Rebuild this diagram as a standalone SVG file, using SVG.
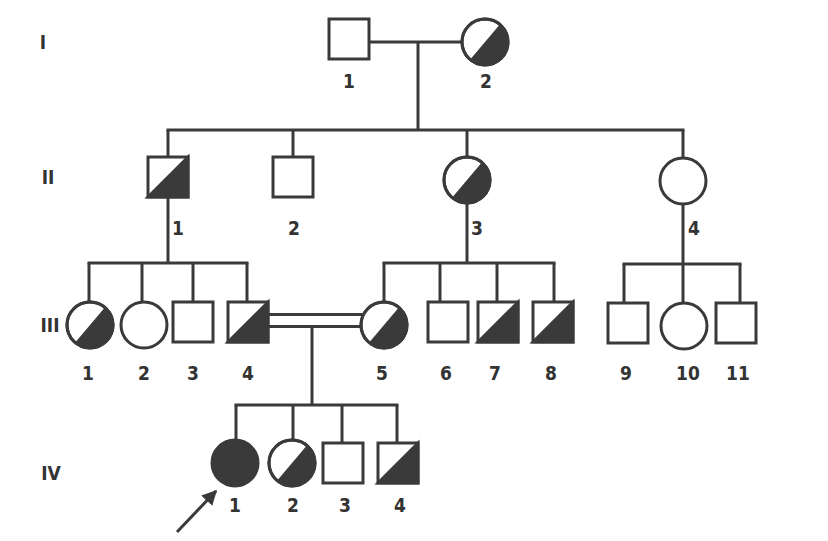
<svg xmlns="http://www.w3.org/2000/svg" width="828" height="541" viewBox="0 0 828 541">
<style>
.ln{stroke:#3a3a3a;stroke-width:3;fill:none}
.sh{stroke:#3a3a3a;stroke-width:3;fill:#fff}
.fl{fill:#3a3a3a;stroke:none}
.ff{fill:#3a3a3a;stroke:#3a3a3a;stroke-width:3}
text{font-family:"DejaVu Sans Condensed","Liberation Sans",sans-serif;font-weight:bold;font-size:19px;fill:#333;text-anchor:middle}
</style>
<defs>
<marker id="ah" viewBox="0 0 10 10" refX="9" refY="5" markerWidth="5" markerHeight="5" orient="auto">
<path d="M0,0 L10,5 L0,10 z" fill="#3a3a3a"/>
</marker>
</defs>
<rect width="828" height="541" fill="#fff"/>
<g id="connectors">
<line class="ln" x1="369" y1="42" x2="462" y2="42"/>
<line class="ln" x1="418" y1="42" x2="418" y2="130"/>
<line class="ln" x1="166.5" y1="130" x2="684.5" y2="130"/>
<line class="ln" x1="168" y1="130" x2="168" y2="157"/>
<line class="ln" x1="293" y1="130" x2="293" y2="157"/>
<line class="ln" x1="467" y1="130" x2="467" y2="157"/>
<line class="ln" x1="683" y1="130" x2="683" y2="158"/>
<line class="ln" x1="168" y1="197" x2="168" y2="263"/>
<line class="ln" x1="87.5" y1="263" x2="248.5" y2="263"/>
<line class="ln" x1="89" y1="263" x2="89" y2="302"/>
<line class="ln" x1="142" y1="263" x2="142" y2="302"/>
<line class="ln" x1="193" y1="263" x2="193" y2="302"/>
<line class="ln" x1="247" y1="263" x2="247" y2="302"/>
<line class="ln" x1="467" y1="203" x2="467" y2="263"/>
<line class="ln" x1="382.5" y1="263" x2="555.5" y2="263"/>
<line class="ln" x1="384" y1="263" x2="384" y2="302"/>
<line class="ln" x1="440" y1="263" x2="440" y2="302"/>
<line class="ln" x1="497" y1="263" x2="497" y2="302"/>
<line class="ln" x1="554" y1="263" x2="554" y2="302"/>
<line class="ln" x1="683" y1="204" x2="683" y2="264"/>
<line class="ln" x1="622.5" y1="264" x2="741.5" y2="264"/>
<line class="ln" x1="624" y1="264" x2="624" y2="303"/>
<line class="ln" x1="683" y1="264" x2="683" y2="303"/>
<line class="ln" x1="740" y1="264" x2="740" y2="303"/>
<line x1="268" y1="320.5" x2="362" y2="320.5" stroke="#3a3a3a" stroke-width="15"/>
<line x1="268" y1="320.5" x2="362" y2="320.5" stroke="#fff" stroke-width="9"/>
<line class="ln" x1="312" y1="327" x2="312" y2="405"/>
<line class="ln" x1="234.5" y1="405" x2="398.5" y2="405"/>
<line class="ln" x1="236" y1="405" x2="236" y2="440"/>
<line class="ln" x1="293" y1="405" x2="293" y2="440"/>
<line class="ln" x1="342" y1="405" x2="342" y2="443"/>
<line class="ln" x1="397" y1="405" x2="397" y2="443"/>
<line class="ln" x1="177" y1="532" x2="216" y2="491" stroke-width="2.5" marker-end="url(#ah)"/>
</g>
<g id="gen-labels">
<text x="43" y="49">I</text>
<text x="48" y="184">II</text>
<text x="50" y="332">III</text>
<text x="51" y="480">IV</text>
</g>
<g id="I-1"><rect class="sh" x="329" y="19" width="40" height="40"/><text x="349" y="88">1</text></g>
<g id="I-2"><circle class="sh" cx="485" cy="42" r="23"/><path class="fl" d="M470.2,59.6 A23,23 0 0 0 499.8,24.4 Z"/><circle class="ln" cx="485" cy="42" r="23"/><text x="486" y="88">2</text></g>
<g id="II-1"><rect class="sh" x="148" y="157" width="40" height="40"/><path class="ff" d="M148,197 L188,157 L188,197 Z"/><text x="178" y="235">1</text></g>
<g id="II-2"><rect class="sh" x="273" y="157" width="40" height="40"/><text x="294" y="235">2</text></g>
<g id="II-3"><circle class="sh" cx="467" cy="180" r="23"/><path class="fl" d="M452.2,197.6 A23,23 0 0 0 481.8,162.4 Z"/><circle class="ln" cx="467" cy="180" r="23"/><text x="477" y="235">3</text></g>
<g id="II-4"><circle class="sh" cx="683" cy="181" r="23"/><text x="694" y="235">4</text></g>
<g id="III-1"><circle class="sh" cx="90" cy="325" r="23"/><path class="fl" d="M75.2,342.6 A23,23 0 0 0 104.8,307.4 Z"/><circle class="ln" cx="90" cy="325" r="23"/><text x="88" y="380">1</text></g>
<g id="III-2"><circle class="sh" cx="144" cy="325" r="23"/><text x="144" y="380">2</text></g>
<g id="III-3"><rect class="sh" x="173" y="302" width="40" height="40"/><text x="193" y="380">3</text></g>
<g id="III-4"><rect class="sh" x="228" y="302" width="40" height="40"/><path class="ff" d="M228,342 L268,302 L268,342 Z"/><text x="248" y="380">4</text></g>
<g id="III-5"><circle class="sh" cx="384" cy="325" r="23"/><path class="fl" d="M369.2,342.6 A23,23 0 0 0 398.8,307.4 Z"/><circle class="ln" cx="384" cy="325" r="23"/><text x="382" y="380">5</text></g>
<g id="III-6"><rect class="sh" x="428" y="302" width="40" height="40"/><text x="446" y="380">6</text></g>
<g id="III-7"><rect class="sh" x="478" y="302" width="40" height="40"/><path class="ff" d="M478,342 L518,302 L518,342 Z"/><text x="495" y="380">7</text></g>
<g id="III-8"><rect class="sh" x="533" y="302" width="40" height="40"/><path class="ff" d="M533,342 L573,302 L573,342 Z"/><text x="551" y="380">8</text></g>
<g id="III-9"><rect class="sh" x="608" y="303" width="40" height="40"/><text x="626" y="380">9</text></g>
<g id="III-10"><circle class="sh" cx="684" cy="326" r="23"/><text x="688" y="380">10</text></g>
<g id="III-11"><rect class="sh" x="716" y="303" width="40" height="40"/><text x="738" y="380">11</text></g>
<g id="IV-1"><circle class="ff" cx="235" cy="463" r="23"/><text x="235" y="512">1</text></g>
<g id="IV-2"><circle class="sh" cx="292" cy="463" r="23"/><path class="fl" d="M277.2,480.6 A23,23 0 0 0 306.8,445.4 Z"/><circle class="ln" cx="292" cy="463" r="23"/><text x="293" y="512">2</text></g>
<g id="IV-3"><rect class="sh" x="323" y="443" width="40" height="40"/><text x="345" y="512">3</text></g>
<g id="IV-4"><rect class="sh" x="378" y="443" width="40" height="40"/><path class="ff" d="M378,483 L418,443 L418,483 Z"/><text x="400" y="512">4</text></g>
</svg>
